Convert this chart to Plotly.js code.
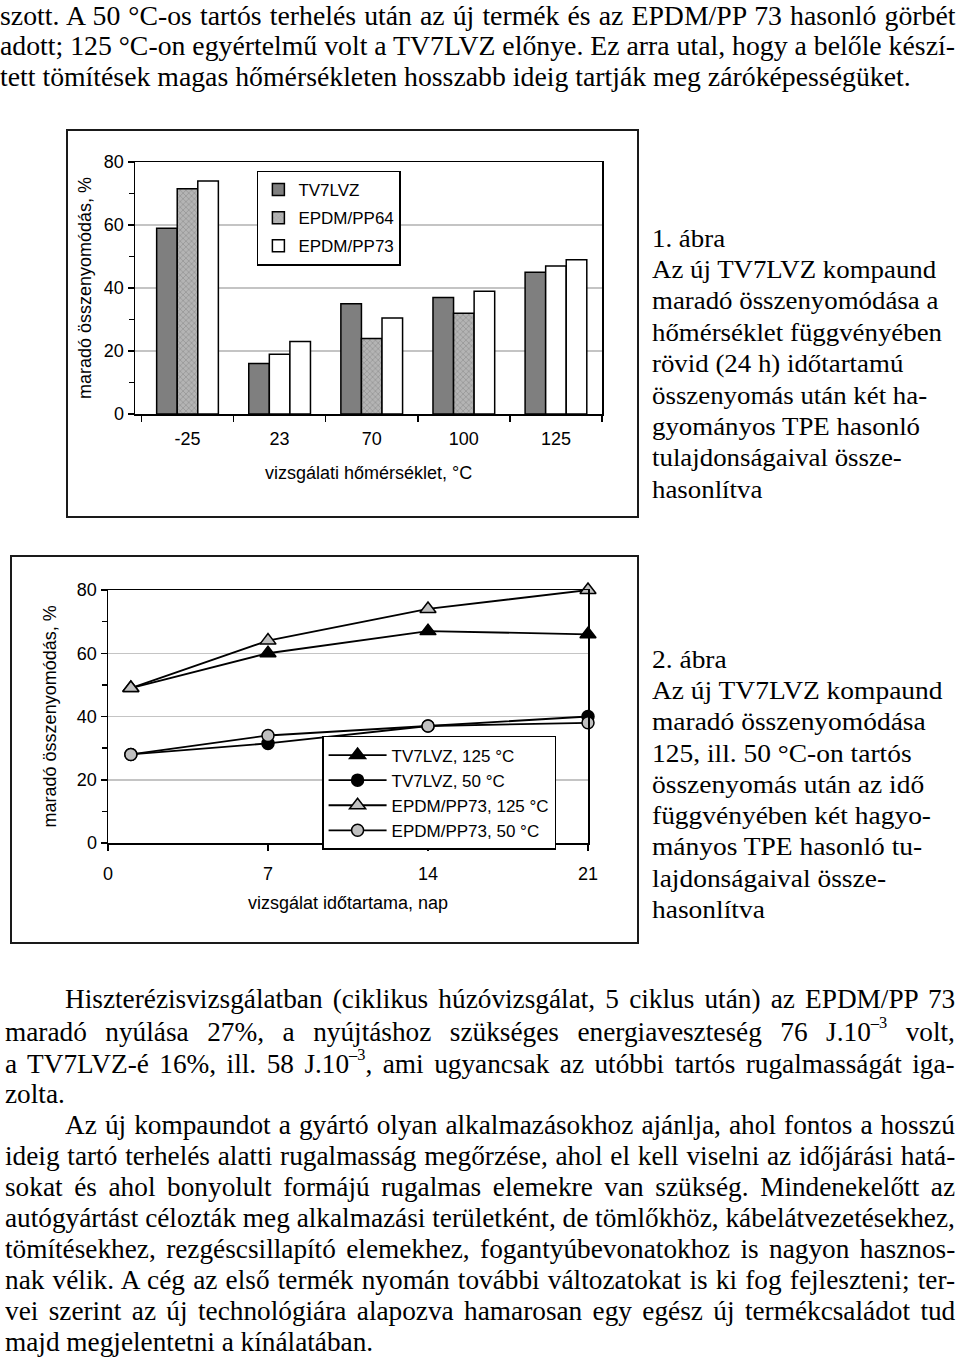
<!DOCTYPE html>
<html><head><meta charset="utf-8">
<script src="https://cdn.plot.ly/plotly-3.0.1.min.js"></script>
<style>
html,body{margin:0;padding:0;background:#fff;}
#page{position:relative;width:960px;height:1363px;overflow:hidden;background:#fff;}
.ln{position:absolute;white-space:pre;font-family:"Liberation Serif","Times New Roman",Tinos,serif;color:#000;transform-origin:0 0;line-height:1.15;}
.ln sup{font-size:0.6em;line-height:0;vertical-align:0.75em;}
.frame{position:absolute;border:2px solid #1a1a1a;box-sizing:border-box;pointer-events:none;}
.chart{position:absolute;}
</style></head><body><div id="page">
<div id="c1" class="chart" style="left:67px;top:130px;width:571px;height:387px"></div>
<div class="frame" style="left:66px;top:129px;width:573px;height:389px"></div>
<div id="c2" class="chart" style="left:11px;top:556px;width:627px;height:387px"></div>
<div class="frame" style="left:10px;top:555px;width:629px;height:389px"></div>
</div>
<script>
// ---------- data ----------
const tempCategories = ['-25', '23', '70', '100', '125'];
const tv7lvzShort = [59, 16, 35, 37, 45];
const epdmPP64Short = [71.5, 19, 24, 32, 47];
const epdmPP73Short = [74, 23, 30.5, 39, 49];
const barSeriesNames = ['TV7LVZ', 'EPDM/PP64', 'EPDM/PP73'];

const days = [1, 7, 14, 21];
const dayTicks = [0, 7, 14, 21];
const tv7lvz125 = [49, 60, 67, 66];
const tv7lvz50 = [28, 31.5, 37, 40];
const epdm73_125 = [49, 64, 74, 80];
const epdm73_50 = [28, 34, 37, 38];
const lineSeriesNames = ['TV7LVZ, 125 °C', 'TV7LVZ, 50 °C', 'EPDM/PP73, 125 °C', 'EPDM/PP73, 50 °C'];

const yAxisTitle = 'maradó összenyomódás, %';
const xTitle1 = 'vizsgálati hőmérséklet, °C';
const xTitle2 = 'vizsgálat időtartama, nap';

const topLines = [
  'szott. A 50 °C-os tartós terhelés után az új termék és az EPDM/PP 73 hasonló görbét',
  'adott; 125 °C-on egyértelmű volt a TV7LVZ előnye. Ez arra utal, hogy a belőle készí-',
  'tett tömítések magas hőmérsékleten hosszabb ideig tartják meg záróképességüket.'
];
const caption1 = ['1. ábra', 'Az új TV7LVZ kompaund', 'maradó összenyomódása a', 'hőmérséklet függvényében',
  'rövid (24 h) időtartamú', 'összenyomás után két ha-', 'gyományos TPE hasonló', 'tulajdonságaival össze-', 'hasonlítva'];
const caption2 = ['2. ábra', 'Az új TV7LVZ kompaund', 'maradó összenyomódása', '125, ill. 50 °C-on tartós',
  'összenyomás után az idő', 'függvényében két hagyo-', 'mányos TPE hasonló tu-', 'lajdonságaival össze-', 'hasonlítva'];
const bottomLines = [
  'Hiszterézisvizsgálatban (ciklikus húzóvizsgálat, 5 ciklus után) az EPDM/PP 73',
  'maradó nyúlása 27%, a nyújtáshoz szükséges energiaveszteség 76 J.10<sup>–3</sup> volt,',
  'a TV7LVZ-é 16%, ill. 58 J.10<sup>–3</sup>, ami ugyancsak az utóbbi tartós rugalmasságát iga-',
  'zolta.',
  'Az új kompaundot a gyártó olyan alkalmazásokhoz ajánlja, ahol fontos a hosszú',
  'ideig tartó terhelés alatti rugalmasság megőrzése, ahol el kell viselni az időjárási hatá-',
  'sokat és ahol bonyolult formájú rugalmas elemekre van szükség. Mindenekelőtt az',
  'autógyártást célozták meg alkalmazási területként, de tömlőkhöz, kábelátvezetésekhez,',
  'tömítésekhez, rezgéscsillapító elemekhez, fogantyúbevonatokhoz is nagyon hasznos-',
  'nak vélik. A cég az első termék nyomán további változatokat is ki fog fejleszteni; ter-',
  'vei szerint az új technológiára alapozva hamarosan egy egész új termékcsaládot tud',
  'majd megjelentetni a kínálatában.'
];

// ---------- text layout ----------
const page = document.getElementById('page');
const BODY_FS = 28, CAP_FS = 25;
function makeLine(html, x, yc, fs) {
  const d = document.createElement('div');
  d.className = 'ln';
  d.style.fontSize = fs + 'px';
  d.style.left = x + 'px';
  d.style.top = Math.max(0, yc - fs * 0.655) + 'px';
  d.innerHTML = html;
  page.appendChild(d);
  return d;
}
function spaces(html) { return (html.replace(/<[^>]*>/g, '').match(/ /g) || []).length; }
function layoutBlock(spec, fs) {
  const items = spec.map(s => ({el: makeLine(s[0], s[1], s[2], fs), x: s[1], right: s[3], html: s[0]}));
  const ratios = items.filter(i => i.right).map(i => (i.right - i.x) / i.el.offsetWidth);
  const S = ratios.length ? Math.min.apply(null, ratios) : 1;
  items.forEach(i => {
    i.el.style.transform = 'scaleX(' + S + ')';
    if (i.right) {
      const nat = i.el.offsetWidth;
      const n = spaces(i.html);
      if (n > 0) i.el.style.wordSpacing = (((i.right - i.x) / S - nat) / n) + 'px';
    }
  });
}
function layoutCaption(lines, x, y0, dy, refIndex, refWidth, fs) {
  const els = lines.map((t, k) => makeLine(t, x, y0 + k * dy, fs));
  const S = refWidth / els[refIndex].offsetWidth;
  els.forEach(e => e.style.transform = 'scaleX(' + S + ')');
}

layoutBlock([
  [topLines[0], 0, 17, 955],
  [topLines[1], 0, 48, 955],
  [topLines[2], 0, 79, null]
], BODY_FS);
layoutCaption(caption1, 652, 241, 31.4, 3, 290, CAP_FS);
layoutCaption(caption2, 652, 662, 31.3, 1, 291, CAP_FS);
const bottomY = [1001, 1034, 1066, 1096, 1127, 1158, 1189, 1220, 1251, 1282, 1313, 1344];
const bottomX = [65, 5, 5, 5, 65, 5, 5, 5, 5, 5, 5, 5];
const bottomJust = [true, true, true, false, true, true, true, true, true, true, true, false];
layoutBlock(bottomLines.map((t, k) => [t, bottomX[k], bottomY[k], bottomJust[k] ? 955 : null]), BODY_FS);

// ---------- charts ----------
const AX = {showline: true, linecolor: '#000', linewidth: 1.5, mirror: true, ticks: 'outside', tickcolor: '#000',
  tickwidth: 1.5, ticklen: 6, zeroline: false, fixedrange: true};
const YAX = Object.assign({}, AX, {range: [0, 80], tick0: 0, dtick: 20, showgrid: true, gridcolor: '#c4c4c4', gridwidth: 1.5,
  minor: {dtick: 10, ticks: 'outside', ticklen: 5, tickwidth: 1.5, tickcolor: '#000', showgrid: false}});
const FONT = {family: '"Liberation Sans", Arial, sans-serif', size: 18, color: '#000'};
const LFONT = Object.assign({}, FONT, {size: 17});

const barLine = {color: '#000', width: 1.5};
const pp64Colors = ['#b4b4b4', '#ffffff', '#b4b4b4', '#b4b4b4', '#ffffff'];
const pp64Shapes = ['x', '', 'x', 'x', ''];
const bars = [
  {type: 'bar', x: tempCategories, y: tv7lvzShort, name: barSeriesNames[0], legendgroup: 'a',
    marker: {color: '#7f7f7f', line: barLine}},
  {type: 'bar', x: tempCategories, y: epdmPP64Short, name: barSeriesNames[1], legendgroup: 'b',
    marker: {color: pp64Colors, line: barLine, pattern: {shape: pp64Shapes, fgcolor: '#7a7a7a', bgcolor: pp64Colors, size: 4, solidity: 0.2, fillmode: 'overlay'}}},
  {type: 'bar', x: tempCategories, y: epdmPP73Short, name: barSeriesNames[2], legendgroup: 'c',
    marker: {color: '#ffffff', line: barLine}}
];
Plotly.newPlot('c1', bars, {
  width: 571, height: 387, margin: {l: 68, r: 36, t: 32, b: 103},
  paper_bgcolor: 'rgba(0,0,0,0)', plot_bgcolor: 'rgba(0,0,0,0)', font: FONT,
  barmode: 'group', bargap: 0.33, bargroupgap: 0,
  xaxis: Object.assign({}, AX, {type: 'category', range: [-0.57, 4.5], tickson: 'boundaries', showgrid: false, ticklabelstandoff: 8}),
  yaxis: YAX,
  showlegend: true,
  legend: {x: 0.261, y: 0.966, xanchor: 'left', yanchor: 'top', bordercolor: '#000', borderwidth: 1.5, bgcolor: '#fff',
    font: LFONT, tracegroupgap: 3, traceorder: 'grouped'},
  annotations: [
    {text: yAxisTitle, xref: 'paper', yref: 'paper', x: -0.107, y: 0.5, textangle: -90, showarrow: false,
      xanchor: 'center', yanchor: 'middle', font: FONT},
    {text: xTitle1, xref: 'paper', yref: 'paper', x: 0.5, y: -0.234, showarrow: false, xanchor: 'center', yanchor: 'middle', font: FONT}
  ]
}, {staticPlot: true, displayModeBar: false});

const mk = (sym, fill, size) => ({symbol: sym, color: fill, size: size, line: {color: '#000', width: 1.5}});
const lines = [
  {x: days, y: tv7lvz125, name: lineSeriesNames[0], marker: mk('triangle-up', '#000', 14)},
  {x: days, y: tv7lvz50, name: lineSeriesNames[1], marker: mk('circle', '#000', 12)},
  {x: days, y: epdm73_125, name: lineSeriesNames[2], marker: mk('triangle-up', '#c0c0c0', 14)},
  {x: days, y: epdm73_50, name: lineSeriesNames[3], marker: mk('circle', '#c0c0c0', 12)}
].map(t => Object.assign(t, {type: 'scatter', mode: 'lines+markers', line: {color: '#000', width: 1.8}, cliponaxis: false}));
Plotly.newPlot('c2', lines, {
  width: 627, height: 387, margin: {l: 97, r: 50, t: 34, b: 100},
  paper_bgcolor: 'rgba(0,0,0,0)', plot_bgcolor: 'rgba(0,0,0,0)', font: FONT,
  xaxis: Object.assign({}, AX, {range: [0, 21], tickvals: dayTicks, showgrid: false, ticklabelstandoff: 8}),
  yaxis: YAX,
  showlegend: true,
  legend: {x: 0.446, y: 0.423, xanchor: 'left', yanchor: 'top', bordercolor: '#000', borderwidth: 1.5, bgcolor: '#fff',
    font: Object.assign({}, FONT, {size: 17}), traceorder: 'normal', tracegroupgap: 0, itemwidth: 58},
  annotations: [
    {text: yAxisTitle, xref: 'paper', yref: 'paper', x: -0.121, y: 0.5, textangle: -90, showarrow: false,
      xanchor: 'center', yanchor: 'middle', font: FONT},
    {text: xTitle2, xref: 'paper', yref: 'paper', x: 0.5, y: -0.237, showarrow: false, xanchor: 'center', yanchor: 'middle', font: FONT}
  ]
}, {staticPlot: true, displayModeBar: false});
</script>
</body></html>
